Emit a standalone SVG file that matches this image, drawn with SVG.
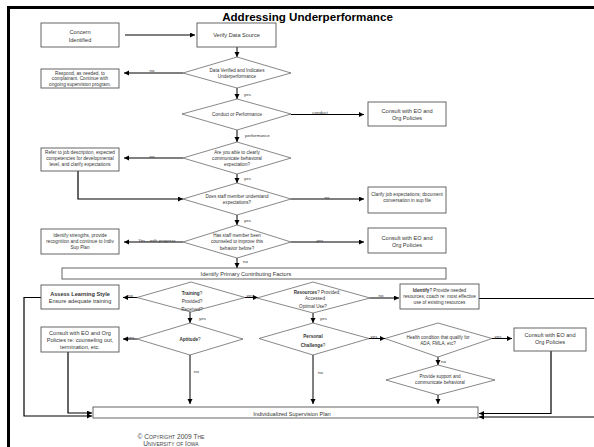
<svg xmlns="http://www.w3.org/2000/svg" width="594" height="447" viewBox="0 0 594 447">
<style>
text{font-family:"Liberation Sans",Arial,sans-serif;fill:#333;text-anchor:middle}
.t{font-size:5.6px}
.s{font-size:4.7px}
.d{font-size:4.6px}
.l{font-size:4.4px;text-anchor:start}
.lc{font-size:4.4px}
.b{font-weight:bold}
.box{fill:#fff;stroke:#555;stroke-width:0.9}
.dia{fill:#fff;stroke:#555;stroke-width:0.7}
.c{fill:none;stroke:#000;stroke-width:1}
.cl{fill:none;stroke:#000;stroke-width:1.2}
</style>
<defs>
<marker id="ah" markerUnits="userSpaceOnUse" markerWidth="6" markerHeight="6" refX="5" refY="2.5" orient="auto">
<path d="M0,0 L5,2.5 L0,5 Z" fill="#000"/>
</marker>
</defs>
<rect width="594" height="447" fill="#fff"/>
<g id="frame">
<line x1="7" y1="7.5" x2="594" y2="7.5" stroke="#000" stroke-width="3"/>
<line x1="8.5" y1="6" x2="8.5" y2="447" stroke="#000" stroke-width="3"/>
</g>
<text x="307.5" y="21" style="font-size:11.6px;font-weight:bold;fill:#000">Addressing Underperformance</text>

<g id="connectors">
<line class="c" x1="125" y1="35" x2="195" y2="35" marker-end="url(#ah)"/>
<line class="c" x1="237" y1="47" x2="237" y2="57" marker-end="url(#ah)"/>
<line class="c" x1="183" y1="73" x2="124" y2="73" marker-end="url(#ah)"/>
<line class="c" x1="237" y1="88" x2="237" y2="99" marker-end="url(#ah)"/>
<line class="c" x1="291" y1="114.5" x2="364" y2="114.5" marker-end="url(#ah)"/>
<line class="c" x1="237" y1="130" x2="237" y2="142" marker-end="url(#ah)"/>
<line class="c" x1="183" y1="158" x2="124" y2="158" marker-end="url(#ah)"/>
<polyline class="cl" points="78,171 78,199 183,199" marker-end="url(#ah)"/>
<line class="c" x1="237" y1="174" x2="237" y2="183" marker-end="url(#ah)"/>
<line class="c" x1="291" y1="199" x2="364" y2="199" marker-end="url(#ah)"/>
<line class="c" x1="237" y1="215" x2="237" y2="225" marker-end="url(#ah)"/>
<line class="c" x1="183" y1="242" x2="124" y2="242" marker-end="url(#ah)"/>
<line class="c" x1="291" y1="242" x2="364" y2="242" marker-end="url(#ah)"/>
<line class="c" x1="237" y1="258" x2="237" y2="268" marker-end="url(#ah)"/>
<line class="c" x1="137" y1="297.5" x2="123" y2="297.5" marker-end="url(#ah)"/>
<line class="c" x1="245" y1="297.5" x2="258" y2="297.5" marker-end="url(#ah)"/>
<line class="c" x1="370" y1="298" x2="399" y2="298" marker-end="url(#ah)"/>
<line class="c" x1="190" y1="312" x2="190" y2="323" marker-end="url(#ah)"/>
<line class="c" x1="313" y1="313" x2="313" y2="323" marker-end="url(#ah)"/>
<line class="c" x1="137" y1="339" x2="123" y2="339" marker-end="url(#ah)"/>
<line class="c" x1="369" y1="338.5" x2="385" y2="338.5" marker-end="url(#ah)"/>
<line class="c" x1="492" y1="338.5" x2="512" y2="338.5" marker-end="url(#ah)"/>
<line class="c" x1="438" y1="357" x2="438" y2="365" marker-end="url(#ah)"/>
<line class="c" x1="190" y1="355" x2="190" y2="404" marker-end="url(#ah)"/>
<line class="c" x1="313" y1="355" x2="313" y2="404" marker-end="url(#ah)"/>
<line class="c" x1="438" y1="395" x2="438" y2="404" marker-end="url(#ah)"/>
<polyline class="cl" points="41,297.5 24,297.5 24,416 92,416" marker-end="url(#ah)"/>
<polyline class="cl" points="68,352 68,413 92,413" marker-end="url(#ah)"/>
<polyline class="cl" points="479,298.5 600,298.5 600,417 479,417" marker-end="url(#ah)"/>
<polyline class="cl" points="551,351 551,413.5 479,413.5" marker-end="url(#ah)"/>
<text class="lc" x="152" y="72">no</text>
<text class="l" x="244" y="96">yes</text>
<text class="lc" x="320" y="113.5">conduct</text>
<text class="l" x="245" y="137">performance</text>
<text class="lc" x="152" y="157.5">no</text>
<text class="l" x="244" y="180">yes</text>
<text class="lc" x="327" y="198.5">no</text>
<text class="l" x="244" y="222">yes</text>
<text class="lc" x="157" y="241.5">Yes—with progress</text>
<text class="lc" x="320" y="241.5">yes</text>
<text class="l" x="243" y="263">no</text>
<text class="l" x="128" y="297">no</text>
<text class="lc" x="250" y="297">yes</text>
<text class="l" x="199" y="320">yes</text>
<text class="lc" x="381" y="297">no</text>
<text class="l" x="320" y="320">yes</text>
<text class="lc" x="131" y="338.5">yes</text>
<text class="l" x="194" y="373">no</text>
<text class="lc" x="374" y="338">yes</text>
<text class="l" x="318" y="374">no</text>
<text class="lc" x="498" y="338">yes</text>
<text class="l" x="441" y="363">no</text>
</g>

<g id="concern">
<rect class="box" x="41" y="23" width="78" height="24"/>
<text class="t" x="80" y="34">Concern</text>
<text class="t" x="80" y="41.5">Identified</text>
</g>
<g id="verify">
<rect class="box" x="197" y="23" width="79" height="24"/>
<text class="t" x="236.5" y="36.5">Verify Data Source</text>
</g>
<g id="respond">
<rect class="box" x="41" y="69" width="78" height="19"/>
<text class="s" x="80" y="74.5">Respond, as needed, to</text>
<text class="s" x="80" y="80">complainant.  Continue with</text>
<text class="s" x="80" y="85.5">ongoing supervision program.</text>
</g>
<g id="d-verified">
<polygon class="dia" points="237,57 291,73 237,88 183,73"/>
<text class="d" x="237" y="71.5">Data Verified and Indicates</text>
<text class="d" x="237" y="77.5">Underperformance</text>
</g>
<g id="d-conduct">
<polygon class="dia" points="237,99 291,114 237,130 182,114"/>
<text class="d" x="237" y="116">Conduct or Performance</text>
</g>
<g id="consult1">
<rect class="box" x="368" y="102" width="78" height="24"/>
<text class="t" x="407" y="112.5">Consult with EO and</text>
<text class="t" x="407" y="119.5">Org Policies</text>
</g>
<g id="d-communicate">
<polygon class="dia" points="237,142 291,158 237,174 183,158"/>
<text class="d" x="237" y="153.5">Are you able to clearly</text>
<text class="d" x="237" y="159.5">communicate behavioral</text>
<text class="d" x="237" y="165.5">expectation?</text>
</g>
<g id="refer">
<rect class="box" x="41" y="148" width="78" height="23"/>
<text class="s" x="80" y="154">Refer to job description, expected</text>
<text class="s" x="80" y="160">competencies for developmental</text>
<text class="s" x="80" y="166">level, and clarify expectations</text>
</g>
<g id="d-understand">
<polygon class="dia" points="237,183 291,199 237,215 183,199"/>
<text class="d" x="237" y="197.5">Does staff member understand</text>
<text class="d" x="237" y="203.5">expectations?</text>
</g>
<g id="clarify">
<rect class="box" x="368" y="187" width="78" height="26"/>
<text class="s" x="407" y="196">Clarify job expectations; document</text>
<text class="s" x="407" y="202">conversation in sup file</text>
</g>
<g id="d-counseled">
<polygon class="dia" points="237,225 291,242 237,258 183,242"/>
<text class="d" x="237" y="236.5">Has staff member been</text>
<text class="d" x="237" y="243">counseled to improve this</text>
<text class="d" x="237" y="249.5">behavior before?</text>
</g>
<g id="strengths">
<rect class="box" x="41" y="229" width="78" height="25"/>
<text class="s" x="80" y="236.5">Identify strengths, provide</text>
<text class="s" x="80" y="242.5">recognition and continue to Indiv</text>
<text class="s" x="80" y="248.5">Sup Plan</text>
</g>
<g id="consult2">
<rect class="box" x="368" y="228" width="78" height="25"/>
<text class="t" x="407" y="239.5">Consult with EO and</text>
<text class="t" x="407" y="246.5">Org Policies</text>
</g>
<g id="factors">
<rect class="box" x="62" y="268" width="384" height="11"/>
<text class="t" x="246" y="276">Identify Primary Contributing Factors</text>
</g>
<g id="assess">
<rect class="box" x="41" y="285" width="78" height="24"/>
<text class="t b" x="80" y="296">Assess Learning Style</text>
<text class="t" x="80" y="302.5">Ensure adequate training</text>
</g>
<g id="d-training">
<polygon class="dia" points="191,282 245,297.5 191,312 137,297.5"/>
<text class="d" x="192" y="294.5"><tspan class="b">Training</tspan>?</text>
<text class="d" x="192" y="302.5">Provided?</text>
<text class="d" x="192" y="310.5">Received?</text>
</g>
<g id="d-resources">
<polygon class="dia" points="313,282 370,298 313,313 257,298"/>
<text class="d" x="317" y="294"><tspan class="b">Resources</tspan>?  Provided;</text>
<text class="d" x="315" y="299.5">Accessed</text>
<text class="d" x="313" y="307.5">Optimal Use?</text>
</g>
<g id="identify-res">
<rect class="box" x="400" y="284" width="79" height="25"/>
<text class="s" x="439.5" y="291.5"><tspan class="b">Identify</tspan>?  Provide needed</text>
<text class="s" x="439.5" y="297.5">resources; coach re: most effective</text>
<text class="s" x="439.5" y="303.5">use of existing resources</text>
</g>
<g id="consult-counsel">
<rect class="box" x="41" y="327" width="78" height="25"/>
<text class="t" x="80" y="335">Consult with EO and Org</text>
<text class="t" x="80" y="342">Policies re: counseling out,</text>
<text class="t" x="80" y="349">termination, etc.</text>
</g>
<g id="d-aptitude">
<polygon class="dia" points="190,323 243,339 190,355 137,339"/>
<text class="d" x="190" y="341"><tspan class="b">Aptitude</tspan>?</text>
</g>
<g id="d-personal">
<polygon class="dia" points="313,323 369,338.5 313,355 259,338.5"/>
<text class="d b" x="313" y="338">Personal</text>
<text class="d" x="313" y="346.5"><tspan class="b">Challenge</tspan>?</text>
</g>
<g id="d-health">
<polygon class="dia" points="438,323 492,338.5 438,357 385,338.5"/>
<text class="d" x="438" y="339">Health condition that qualify for</text>
<text class="d" x="438" y="345">ADA, FMLA, etc?</text>
</g>
<g id="consult3">
<rect class="box" x="514" y="328" width="72" height="23"/>
<text class="t" x="550" y="336.5">Consult with EO and</text>
<text class="t" x="550" y="343.5">Org Policies</text>
</g>
<g id="d-support">
<polygon class="dia" points="438,365 495,380 438,395 386,380"/>
<text class="d" x="440" y="378">Provide support and</text>
<text class="d" x="440" y="384">communicate behavioral</text>
</g>
<g id="plan">
<rect class="box" x="93" y="407" width="385" height="11"/>
<text class="t" x="292" y="415.5">Individualized Supervision Plan</text>
</g>
<g id="copyright">
<text x="171" y="439" style="font-size:6.6px;font-variant:small-caps;fill:#444">© Copyright 2009 The</text>
<text x="171" y="446" style="font-size:6.6px;font-variant:small-caps;fill:#444">University of Iowa</text>
</g>
</svg>
